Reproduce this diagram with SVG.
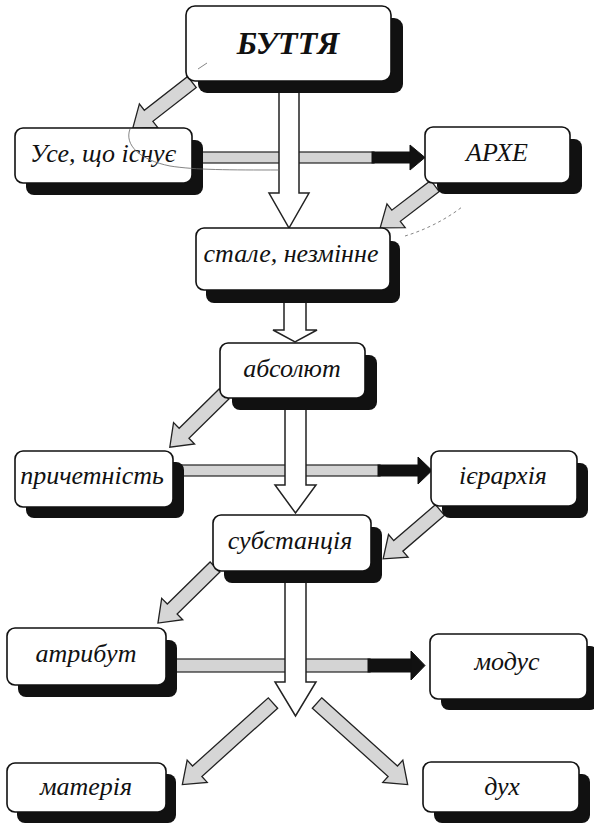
<svg xmlns="http://www.w3.org/2000/svg" width="594" height="825" viewBox="0 0 594 825">
<defs>
<style>
.box{fill:#fff;stroke:#111;stroke-width:1.6}
.shadow{fill:#111}
.garrow{fill:#d6d6d6;stroke:#222;stroke-width:1.3;stroke-linejoin:miter}
.warrow{fill:#fff;stroke:#222;stroke-width:1.5}
.gbar{fill:#d4d4d4;stroke:#222;stroke-width:1.2}
.bbar{fill:#111;stroke:#111;stroke-width:1}
.art{fill:none;stroke:#666;stroke-width:0.8}
</style>
</defs>
<rect width="594" height="825" fill="#fff"/>
<g id="connectors">
  <rect class="gbar" x="200" y="152" width="174" height="11"/>
  <rect class="bbar" x="372" y="152" width="40" height="11"/>
  <polygon class="bbar" points="410,145 425,157.5 410,170"/>
  <rect class="gbar" x="180" y="465" width="200" height="11"/>
  <rect class="bbar" x="378" y="465" width="42" height="11"/>
  <polygon class="bbar" points="418,457 432,470.5 418,484"/>
  <rect class="gbar" x="174" y="659" width="196" height="13"/>
  <rect class="bbar" x="368" y="659" width="45" height="13"/>
  <polygon class="bbar" points="411,651 425,665.5 411,680"/>
  <polygon class="warrow" points="279,88 299,88 299,193 309,193 289,228 269,193 279,193"/>
  <polygon class="warrow" points="284,298 306,298 306,330 317,330 295,342 273,330 284,330"/>
  <polygon class="warrow" points="285,405 306,405 306,485 316,485 295.5,513 275,485 285,485"/>
  <polygon class="warrow" points="285,578 306,578 306,682 316,682 295.5,716 275,682 285,682"/>
  <polygon class="garrow" transform="translate(192,82) rotate(142.1)" points="0,-7 55,-7 55,-15 75,0 55,15 55,7 0,7"/>
  <polygon class="garrow" transform="translate(435,186) rotate(142.6)" points="0,-7 49,-7 49,-15 69,0 49,15 49,7 0,7"/>
  <polygon class="garrow" transform="translate(224,394) rotate(135.5)" points="0,-7 56,-7 56,-15 76,0 56,15 56,7 0,7"/>
  <polygon class="garrow" transform="translate(440,510) rotate(139.3)" points="0,-7 55,-7 55,-15 75,0 55,15 55,7 0,7"/>
  <polygon class="garrow" transform="translate(215,567) rotate(135.5)" points="0,-7 60,-7 60,-15 80,0 60,15 60,7 0,7"/>
  <polygon class="garrow" transform="translate(273,703) rotate(138)" points="0,-7 102,-7 102,-15 122,0 102,15 102,7 0,7"/>
  <polygon class="garrow" transform="translate(317,703) rotate(42)" points="0,-7 102,-7 102,-15 122,0 102,15 102,7 0,7"/>
</g>
<g id="buttia">
  <rect class="shadow" x="198" y="18" width="205" height="75" rx="9"/>
  <rect class="box" x="186" y="6" width="205" height="75" rx="9"/>
  <text x="288" y="54" text-anchor="middle" font-family="'Liberation Serif'" font-style="italic" font-weight="bold" font-size="32" fill="#111">БУТТЯ</text>
</g>
<g id="use">
  <rect class="shadow" x="26" y="140" width="177" height="55" rx="8"/>
  <rect class="box" x="15" y="128" width="177" height="55" rx="8"/>
  <text x="103" y="162" text-anchor="middle" font-family="'Liberation Serif'" font-style="italic" font-size="26" fill="#111">Усе, що існує</text>
</g>
<g id="arkhe">
  <rect class="shadow" x="437" y="139" width="145" height="55" rx="8"/>
  <rect class="box" x="425" y="127" width="145" height="56" rx="8"/>
  <text x="497" y="161" text-anchor="middle" font-family="'Liberation Serif'" font-style="italic" font-size="26" fill="#111">АРХЕ</text>
</g>
<g id="stale">
  <rect class="shadow" x="206" y="241" width="194" height="62" rx="8"/>
  <rect class="box" x="196" y="228" width="194" height="62" rx="8"/>
  <text x="291" y="262" text-anchor="middle" font-family="'Liberation Serif'" font-style="italic" font-size="26" fill="#111">стале, незмінне</text>
</g>
<g id="absolut">
  <rect class="shadow" x="232" y="355" width="145" height="55" rx="8"/>
  <rect class="box" x="220" y="343" width="145" height="55" rx="8"/>
  <text x="292" y="377" text-anchor="middle" font-family="'Liberation Serif'" font-style="italic" font-size="26" fill="#111">абсолют</text>
</g>
<g id="prychetnist">
  <rect class="shadow" x="26" y="462" width="158" height="56" rx="8"/>
  <rect class="box" x="15" y="451" width="158" height="56" rx="8"/>
  <text x="92" y="484" text-anchor="middle" font-family="'Liberation Serif'" font-style="italic" font-size="26" fill="#111">причетність</text>
</g>
<g id="iierarkhiia">
  <rect class="shadow" x="442" y="463" width="146" height="55" rx="8"/>
  <rect class="box" x="431" y="451" width="146" height="55" rx="8"/>
  <text x="503" y="484" text-anchor="middle" font-family="'Liberation Serif'" font-style="italic" font-size="26" fill="#111">ієрархія</text>
</g>
<g id="substantsiia">
  <rect class="shadow" x="224" y="527" width="158" height="56" rx="8"/>
  <rect class="box" x="213" y="515" width="158" height="56" rx="8"/>
  <text x="290" y="549" text-anchor="middle" font-family="'Liberation Serif'" font-style="italic" font-size="26" fill="#111">субстанція</text>
</g>
<g id="atrybut">
  <rect class="shadow" x="18" y="640" width="159" height="57" rx="8"/>
  <rect class="box" x="7" y="628" width="159" height="57" rx="8"/>
  <text x="86" y="662" text-anchor="middle" font-family="'Liberation Serif'" font-style="italic" font-size="26" fill="#111">атрибут</text>
</g>
<g id="modus">
  <rect class="shadow" x="441" y="646" width="157" height="64" rx="8"/>
  <rect class="box" x="430" y="634" width="157" height="65" rx="8"/>
  <text x="507" y="670" text-anchor="middle" font-family="'Liberation Serif'" font-style="italic" font-size="26" fill="#111">модус</text>
</g>
<g id="materiia">
  <rect class="shadow" x="17" y="774" width="159" height="49" rx="8"/>
  <rect class="box" x="7" y="763" width="159" height="49" rx="8"/>
  <text x="86" y="795" text-anchor="middle" font-family="'Liberation Serif'" font-style="italic" font-size="26" fill="#111">матерія</text>
</g>
<g id="dukh">
  <rect class="shadow" x="434" y="774" width="156" height="49" rx="8"/>
  <rect class="box" x="423" y="762" width="156" height="50" rx="8"/>
  <text x="502" y="795" text-anchor="middle" font-family="'Liberation Serif'" font-style="italic" font-size="26" fill="#111">дух</text>
</g>
<g id="artifacts">
  <path class="art" d="M130,129 C124,145 140,160 170,166 C195,170 230,170 280,170"/>
  <path class="art" d="M198,69 L207,63"/>
  <path class="art" d="M405,236 C425,230 445,220 462,207" stroke-dasharray="3,3"/>
</g>
</svg>
